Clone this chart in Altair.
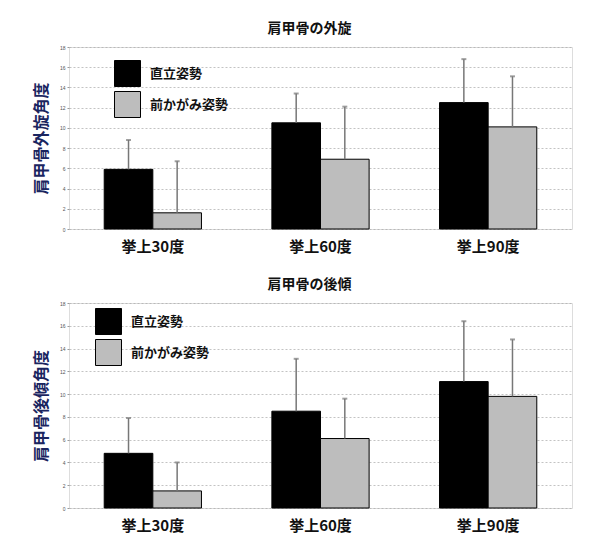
import altair as alt
import pandas as pd

categories = ["挙上30度", "挙上60度", "挙上90度"]
postures = ["直立姿勢", "前かがみ姿勢"]

# 肩甲骨の外旋
rot_upright = [5.9, 10.5, 12.5]
rot_upright_sd = [2.9, 2.9, 4.3]
rot_forward = [1.6, 6.9, 10.1]
rot_forward_sd = [5.1, 5.2, 5.0]

# 肩甲骨の後傾
tilt_upright = [4.8, 8.5, 11.1]
tilt_upright_sd = [3.1, 4.6, 5.3]
tilt_forward = [1.5, 6.1, 9.8]
tilt_forward_sd = [2.5, 3.5, 5.0]

y_ticks = list(range(0, 19, 2))
FONT = "Noto Sans CJK JP"


def make_df(up, up_sd, fw, fw_sd):
    rows = []
    for i, c in enumerate(categories):
        rows.append({"cat": c, "posture": postures[0], "mean": up[i], "top": up[i] + up_sd[i]})
        rows.append({"cat": c, "posture": postures[1], "mean": fw[i], "top": fw[i] + fw_sd[i]})
    return pd.DataFrame(rows)


def panel(df, title, ytitle, h, lx, ly):
    yaxis = alt.Axis(values=y_ticks, tickCount=10, labelFontSize=5, labelColor="#555", labelOverlap=False,
                     tickSize=2, tickColor="#999", domain=False, grid=True, gridColor="#aaa",
                     gridDash=[2, 2], gridOpacity=0.7, titleFont=FONT, titleFontSize=16,
                     titleColor="#1a2560", titleFontWeight="bold", titlePadding=10)
    yscale = alt.Scale(domain=[0, 18], nice=False)
    base = alt.Chart(df).encode(
        x=alt.X("cat:N", sort=categories, title=None,
                scale=alt.Scale(paddingInner=0.42, paddingOuter=0.21),
                axis=alt.Axis(labelAngle=0, labelFontSize=15, labelFont=FONT, labelColor="#111",
                              labelFontWeight="bold", ticks=False, domain=False, labelPadding=10)),
        xOffset=alt.XOffset("posture:N", sort=postures),
    )
    bars = base.mark_bar(stroke="black", strokeWidth=1).encode(
        y=alt.Y("mean:Q", title=ytitle, scale=yscale, axis=yaxis),
        color=alt.Color("posture:N", sort=postures,
                        scale=alt.Scale(domain=postures, range=["#000000", "#bdbdbd"]),
                        legend=alt.Legend(title=None, orient="none", legendX=lx, legendY=ly,
                                          symbolType="square", symbolSize=676, symbolStrokeColor="black",
                                          symbolStrokeWidth=1, symbolOpacity=1, rowPadding=0,
                                          labelFontSize=13, labelFont=FONT, labelColor="#111",
                                          labelFontWeight="bold", labelOffset=9, padding=0)),
    )
    err = base.mark_rule(color="#777", strokeWidth=1.5).encode(
        y=alt.Y("mean:Q", title=ytitle, scale=yscale, axis=yaxis), y2="top:Q")
    caps = base.mark_tick(color="#777", size=5, thickness=2).encode(
        y=alt.Y("top:Q", title=ytitle, scale=yscale, axis=yaxis))
    return alt.layer(bars, err, caps).properties(
        width=503, height=h,
        title=alt.TitleParams(title, fontSize=14, font=FONT, fontWeight="bold",
                              color="#111", offset=9, dx=-11),
    )


top = panel(make_df(rot_upright, rot_upright_sd, rot_forward, rot_forward_sd),
            "肩甲骨の外旋", "肩甲骨外旋角度", 182, 45, 13)
bottom = panel(make_df(tilt_upright, tilt_upright_sd, tilt_forward, tilt_forward_sd),
               "肩甲骨の後傾", "肩甲骨後傾角度", 205, 26, 5)

chart = alt.vconcat(top, bottom, spacing=22).resolve_legend(color="independent").properties(
    padding={"left": 24, "top": 13, "right": 5, "bottom": 5}
).configure_view(stroke="#888", strokeWidth=1).configure(background="white")

chart.save("out.html", embed_options={"renderer": "svg", "actions": False})
